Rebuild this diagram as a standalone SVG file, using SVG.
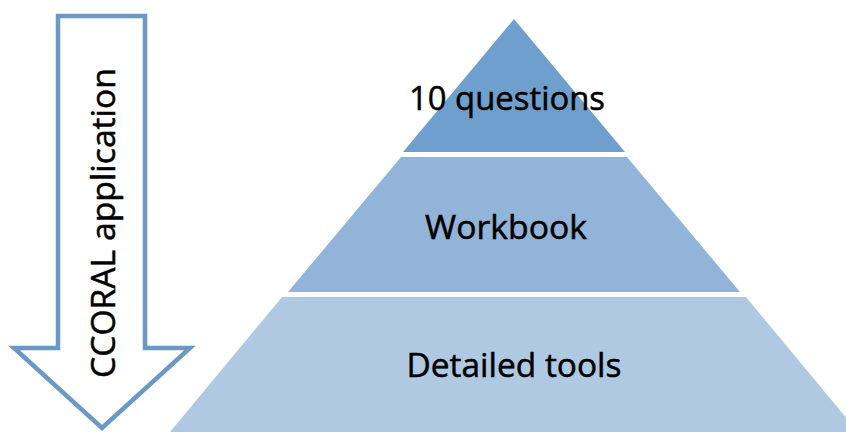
<svg xmlns="http://www.w3.org/2000/svg" width="846" height="432" viewBox="0 0 846 432">
  <style>
    .lbl { font-family: "Open Sans", "Liberation Sans", sans-serif; font-size: 33px; fill: #000; stroke: #000; stroke-width: 0.5px; text-anchor: middle; }
    .t1 { fill: #6f9fcc; }
    .t2 { fill: #91b4d8; }
    .t3 { fill: #b0c9e3; }
  </style>
  <rect width="846" height="432" fill="#fff"/>

  <!-- direction arrow -->
  <g id="arrow">
    <polygon points="58,16 145,16 145,348 190,348 102,428 14,348 58,348" fill="#fff" stroke="#6a99c8" stroke-width="4.5" stroke-linejoin="miter"/>
    <text class="lbl" transform="translate(115,223) rotate(-90)" x="0" y="0" textLength="310" lengthAdjust="spacingAndGlyphs">CCORAL application</text>
  </g>

  <!-- pyramid tiers -->
  <g id="tier-top">
    <polygon class="t1" points="514,19 625,152 403,152"/>
    <text class="lbl" x="507" y="110" textLength="196" lengthAdjust="spacingAndGlyphs">10 questions</text>
  </g>
  <g id="tier-middle">
    <polygon class="t2" points="401,157 627,157 740,292 288,292"/>
    <text class="lbl" x="506" y="239" textLength="162" lengthAdjust="spacingAndGlyphs">Workbook</text>
  </g>
  <g id="tier-bottom">
    <polygon class="t3" points="282,297 746,297 858,432 170,432"/>
    <text class="lbl" x="514" y="377" textLength="215" lengthAdjust="spacingAndGlyphs">Detailed tools</text>
  </g>

  <g id="connectors"/>
</svg>
